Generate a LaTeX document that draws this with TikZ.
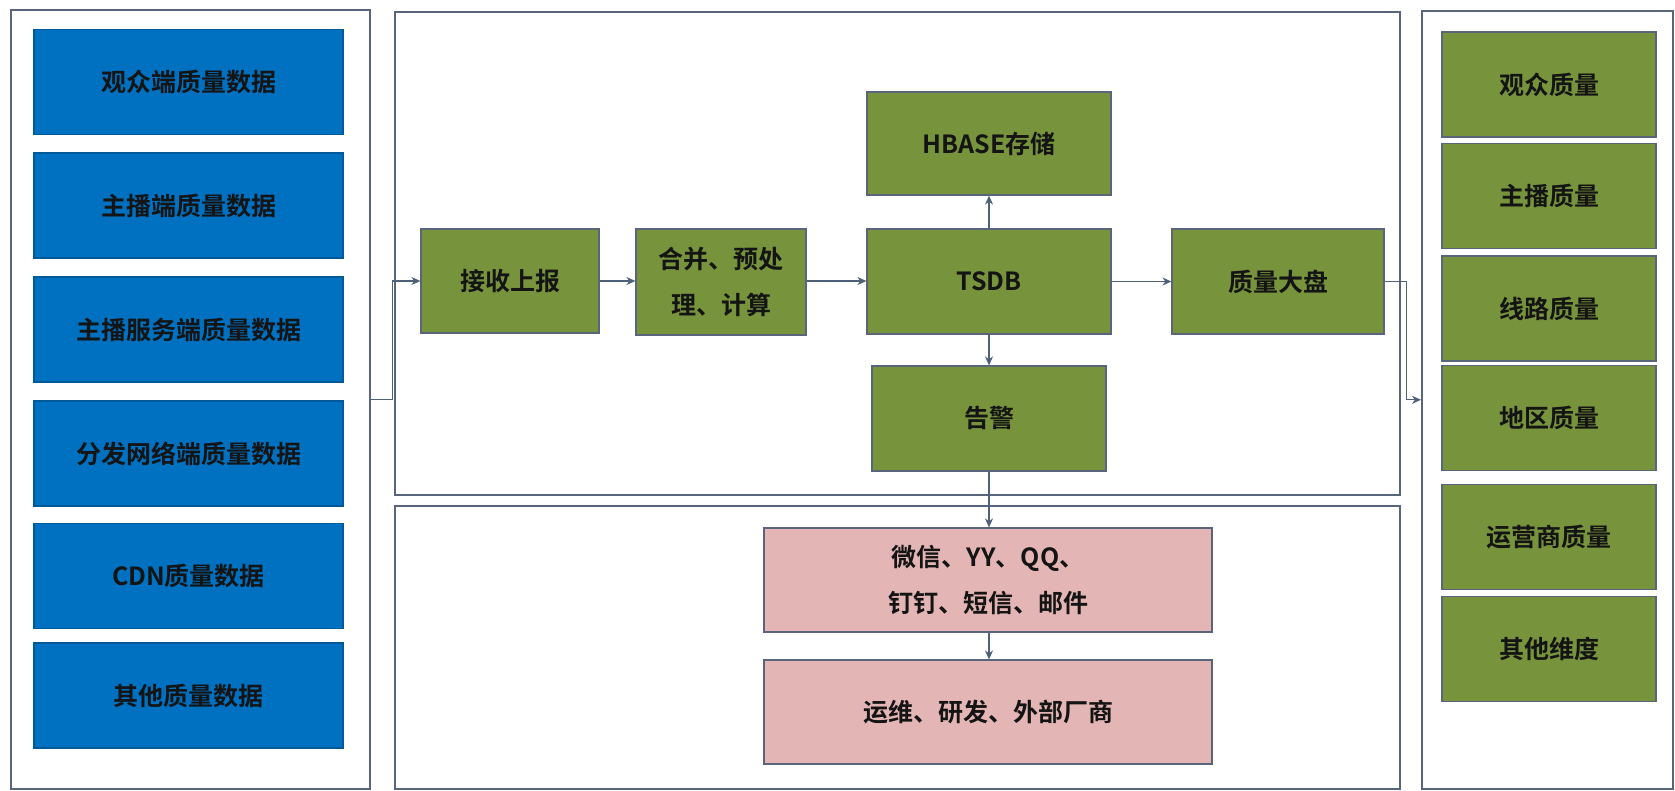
\documentclass[tikz,border=0pt]{standalone}
\usepackage{fontspec}
\setmainfont{Noto Sans CJK SC}[BoldFont={Noto Sans CJK SC Bold}]
\usetikzlibrary{arrows.meta}
\definecolor{bluefill}{HTML}{0070C0}
\definecolor{greenfill}{HTML}{77933C}
\definecolor{pinkfill}{HTML}{E3B5B4}
\definecolor{edgegray}{HTML}{58657A}
\definecolor{arrowcol}{HTML}{4F6079}
\definecolor{txt}{HTML}{141414}
\tikzset{
  container/.style={draw=edgegray, line width=1.6pt, fill=white, inner sep=0pt, anchor=north west},
  box/.style={draw=edgegray, line width=1.2pt, inner sep=0pt, align=center, text=txt,
    font=\fontsize{25}{46}\selectfont\bfseries},
  bluebox/.style={box, fill=bluefill, draw=bluefill!80!black, minimum width=309pt, minimum height=105pt},
  greenbox/.style={box, fill=greenfill},
  rbox/.style={greenbox, minimum width=214pt, minimum height=105pt},
  pinkbox/.style={box, fill=pinkfill, minimum width=448pt, minimum height=104pt},
  arr/.style={draw=arrowcol, line width=1.3pt, -{Stealth[length=9pt,width=8pt]}},
}
\begin{document}
\begin{tikzpicture}[x=1pt,y=-1pt]
\useasboundingbox (0,0) rectangle (1675,790);
% containers
\node[container, minimum width=359pt, minimum height=779pt] (lc) at (10,9) {};
\node[container, minimum width=1005pt, minimum height=483pt] (mt) at (394,11) {};
\node[container, minimum width=1005pt, minimum height=283pt] (mb) at (394,505) {};
\node[container, minimum width=251pt, minimum height=778pt] (rc) at (1421,10) {};
% left blue boxes
\node[bluebox] (b1) at (188.5,82) {观众端质量数据};
\node[bluebox] (b2) at (188.5,205.5) {主播端质量数据};
\node[bluebox] (b3) at (188.5,329.5) {主播服务端质量数据};
\node[bluebox] (b4) at (188.5,453.5) {分发网络端质量数据};
\node[bluebox] (b5) at (188.5,576) {CDN质量数据};
\node[bluebox] (b6) at (188.5,695.5) {其他质量数据};
% right green boxes
\node[rbox] (r1) at (1549,84.5) {观众质量};
\node[rbox] (r2) at (1549,196) {主播质量};
\node[rbox] (r3) at (1549,308.5) {线路质量};
\node[rbox] (r4) at (1549,418) {地区质量};
\node[rbox] (r5) at (1549,537) {运营商质量};
\node[rbox] (r6) at (1549,649) {其他维度};
% middle
\node[greenbox, minimum width=178pt, minimum height=104pt] (recv) at (510,281) {接收上报};
\node[greenbox, minimum width=170pt, minimum height=106pt] (merge) at (721,282) {合并、预处\\理、计算};
\node[greenbox, minimum width=244pt, minimum height=105pt] (tsdb) at (989,281.5) {TSDB};
\node[greenbox, minimum width=244pt, minimum height=103pt] (hbase) at (989,143.5) {HBASE存储};
\node[greenbox, minimum width=234pt, minimum height=105pt] (alarm) at (989,418.5) {告警};
\node[greenbox, minimum width=212pt, minimum height=105pt] (dash) at (1278,281.5) {质量大盘};
\node[pinkbox] (ch) at (988,580) {微信、YY、QQ、\\钉钉、短信、邮件};
\node[pinkbox] (ppl) at (988,712) {运维、研发、外部厂商};
% connectors
\draw[arr] (lc.east) -- ++(22,0) |- (recv.west);
\draw[arr] (recv.east) -- (merge.west |- recv.east);
\draw[arr] (merge.east |- recv.east) -- (tsdb.west |- recv.east);
\draw[arr] (tsdb.north) -- (hbase.south);
\draw[arr] (tsdb.south) -- (alarm.north);
\draw[arr] (tsdb.east) -- (dash.west);
\draw[arr] (dash.east) -- ++(22,0) |- (rc.west);
\draw[arr] (alarm.south) -- (ch.north -| alarm.south);
\draw[arr] (ch.south -| alarm.south) -- (ppl.north -| alarm.south);
\end{tikzpicture}
\end{document}
